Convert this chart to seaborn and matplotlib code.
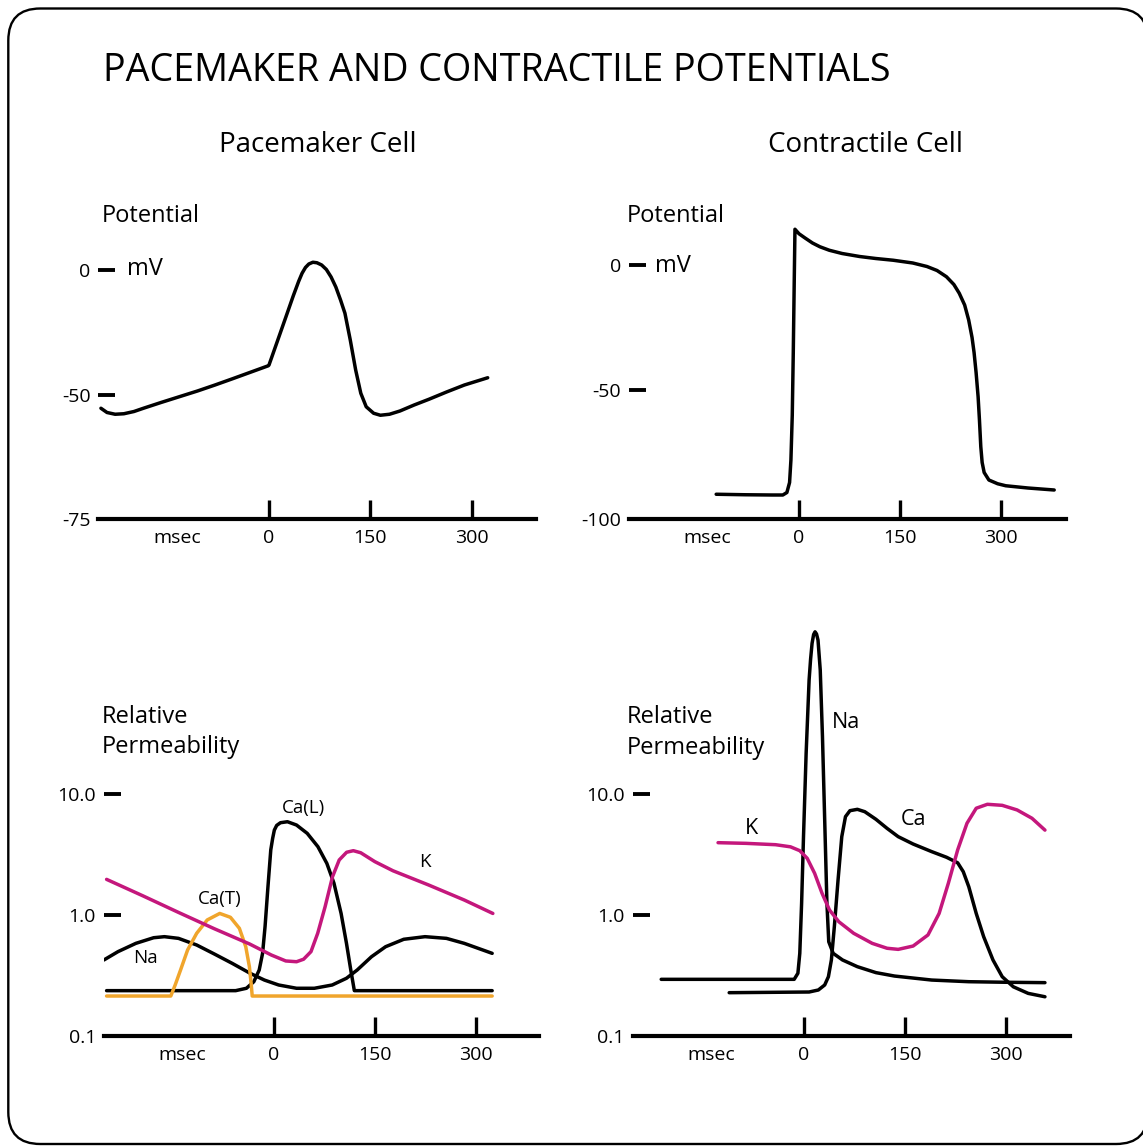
import matplotlib
matplotlib.use("Agg")
import matplotlib.pyplot as plt
import seaborn as sns
from matplotlib.patches import PathPatch
from matplotlib.path import Path
from matplotlib.ticker import FixedLocator, FixedFormatter, NullLocator

# ---------------- data ----------------
X_TICKS = [0, 150, 300]
X_TICK_LABELS = ["0", "150", "300"]
MSEC_POS = -136

# Pacemaker cell membrane potential (ms, mV)
pace_ms = [-249, -240, -228, -215, -200, -186, -160, -133, -106, -80, -54, -27.5, -1,
           0, 12, 25, 36, 44, 49, 54, 59, 65, 71, 78, 85, 92, 99, 106, 112.5, 120.4,
           128.4, 136, 144, 155, 165, 178.5, 194, 215, 237, 263, 289.5, 324]
pace_mv = [-55.3, -57.0, -57.7, -57.5, -56.6, -55.3, -53.0, -50.7, -48.4, -46.0, -43.5, -40.9, -38.3,
           -38.0, -28.8, -18.8, -10.3, -4.5, -1.3, 1.0, 2.4, 3.1, 2.9, 2.0, 0.2, -2.8, -6.8, -12,
           -17.3, -28, -40, -49.3, -54.7, -57.3, -58.1, -57.7, -56.4, -54.0, -51.7, -48.8, -46.0, -43.1]

# Contractile cell membrane potential (ms, mV)
cont_ms = [-123, -80, -40, -24, -18, -14, -12, -10, -8.5, -7, -6, 0, 9, 20, 31, 45, 64, 90,
           114, 140, 169, 190, 205, 219, 230, 238, 246, 252, 257, 260, 263, 266, 268, 270,
           272, 275, 282, 295, 307, 340, 379]
cont_mv = [-91.7, -91.9, -92.0, -92.0, -91.0, -87.0, -78.0, -60.0, -35.0, -5.0, 14.3, 12.5,
           10.8, 8.8, 7.3, 5.9, 4.6, 3.4, 2.6, 1.9, 0.8, -0.6, -2.2, -4.7, -7.8, -11.3, -16,
           -22, -29, -35, -43, -52.7, -62, -72.7, -79, -83, -86, -87.5, -88.3, -89.2, -90]

# Pacemaker cell relative permeability (ms, relative value, log axis)
pk_k_ms = [-249, -195, -142, -89, -36, -4, 17.5, 33.5, 44, 55, 65, 76, 87, 97, 108, 118,
           129, 150, 177, 230, 283, 325.5]
pk_k_p = [1.97, 1.44, 1.05, 0.771, 0.575, 0.467, 0.417, 0.411, 0.431, 0.498, 0.706, 1.17,
          2.07, 2.85, 3.3, 3.4, 3.27, 2.76, 2.32, 1.77, 1.33, 1.03]

pk_cal_ms = [-249, -57, -41, -30, -22, -17, -13.3, -9, -4.8, -2, 0.5, 4, 9.6, 20, 33.5, 49.4,
             65.3, 78.6, 89.2, 99.8, 107.8, 114.2, 119.5, 324.5]
pk_cal_p = [0.237, 0.237, 0.248, 0.281, 0.351, 0.482, 0.802, 1.71, 3.45, 4.3, 5.03, 5.5, 5.79,
            5.9, 5.54, 4.73, 3.67, 2.67, 1.83, 1.03, 0.583, 0.351, 0.237, 0.237]

pk_na_ms = [-253, -232, -205.5, -179, -163, -142, -115, -88.7, -62, -35.6, -14.3, 6.9, 33.5,
            60, 86.6, 107.8, 123.7, 145, 166, 193, 224.6, 256.5, 283, 324.5]
pk_na_p = [0.425, 0.498, 0.583, 0.649, 0.662, 0.641, 0.565, 0.476, 0.398, 0.33, 0.29, 0.264,
           0.248, 0.248, 0.264, 0.3, 0.351, 0.452, 0.547, 0.63, 0.662, 0.641, 0.583, 0.482]

pk_cat_ms = [-249, -153.5, -147, -139, -128.5, -115, -99.3, -80.7, -64.8, -51.5, -42, -36.6,
             -34, -32.4, 324.5]
pk_cat_p = [0.214, 0.214, 0.264, 0.351, 0.514, 0.706, 0.91, 1.03, 0.957, 0.776, 0.547, 0.374,
            0.272, 0.214, 0.214]

# Contractile cell relative permeability (ms, relative value, log axis)
ct_k_ms = [-126.6, -85.3, -41.3, -19.3, -5.5, 5.5, 16.5, 27.5, 38.5, 52.3, 74.3, 101.8, 123.8,
           140.3, 162.4, 184.4, 200.9, 214.6, 228.4, 242.2, 255.9, 272.4, 294.4, 316.5, 338.5, 357.7]
ct_k_p = [3.96, 3.91, 3.81, 3.66, 3.4, 2.94, 2.21, 1.51, 1.1, 0.88, 0.706, 0.583, 0.531, 0.52,
          0.554, 0.684, 1.03, 1.83, 3.45, 5.73, 7.63, 8.22, 8.06, 7.38, 6.3, 5.03]

ct_na_ms = [-210.8, -13.8, -8.3, -5.5, -2.8, 0, 3.9, 8.3, 10.5, 12.7, 15, 17.1, 19.3, 21.5,
            24.8, 28.1, 31.4, 34.7, 37.4, 44, 57.8, 79.8, 107.3, 134.8, 189.9, 244.9, 299.9, 357.7]
ct_na_p = [0.294, 0.294, 0.33, 0.482, 1.25, 4.44, 21.7, 87.5, 130, 176, 208, 219, 210, 187,
           106, 29.8, 6.1, 1.25, 0.601, 0.482, 0.425, 0.374, 0.334, 0.313, 0.29, 0.281, 0.278, 0.276]

ct_ca_ms = [-110.1, 8.3, 22, 31.4, 36.9, 41.3, 45.7, 51.2, 56.7, 62.2, 68.8, 79.8, 90.8, 107.3,
            123.8, 140.3, 162.4, 189.9, 211.9, 228.4, 236.7, 244.9, 255.9, 266.9, 280.7, 294.4,
            310.9, 332.9, 357.7]
ct_ca_p = [0.228, 0.231, 0.24, 0.264, 0.309, 0.425, 0.802, 1.95, 4.44, 6.5, 7.28, 7.47, 7.14,
           6.18, 5.2, 4.44, 3.86, 3.34, 3.0, 2.7, 2.28, 1.71, 1.03, 0.662, 0.425, 0.309, 0.255,
           0.225, 0.211]

BLACK = "#000000"
MAGENTA = "#C4177C"
ORANGE = "#F0A52C"

# ---------------- figure ----------------
sns.set_theme(style="white")
plt.rcParams['font.family'] = ['Open Sans', 'DejaVu Sans']
plt.rcParams['text.color'] = 'black'

W, H = 1143, 1146
fig = plt.figure(figsize=(W / 100, H / 100), dpi=100)
fig.patch.set_facecolor('white')
fig.patch.set_linewidth(0)


def fx(x):
    return x / W


def fy(y):
    return 1 - y / H


def make_axes(x0, x1, ytop, ybot):
    ax = fig.add_axes([fx(x0), fy(ybot), (x1 - x0) / W, (ybot - ytop) / H])
    ax.set_facecolor('none')
    return ax


TICK_FS = 14


def style(ax, yticks, ylabels):
    for s in ['left', 'top', 'right']:
        ax.spines[s].set_visible(False)
    ax.spines['bottom'].set_linewidth(3.0)
    ax.spines['bottom'].set_color('black')
    ax.xaxis.set_major_locator(FixedLocator(X_TICKS))
    ax.xaxis.set_major_formatter(FixedFormatter(X_TICK_LABELS))
    ax.xaxis.set_minor_locator(FixedLocator([MSEC_POS]))
    ax.xaxis.set_minor_formatter(FixedFormatter(["msec"]))
    ax.yaxis.set_major_locator(FixedLocator(yticks))
    ax.yaxis.set_major_formatter(FixedFormatter(ylabels))
    ax.yaxis.set_minor_locator(NullLocator())
    ax.tick_params(axis='x', which='major', direction='in', length=13.7, width=2.4,
                   pad=7, labelsize=TICK_FS, bottom=True, top=False, color='black',
                   labelcolor='black')
    ax.tick_params(axis='x', which='minor', direction='in', length=0, width=0,
                   pad=7, labelsize=TICK_FS, bottom=True, labelcolor='black')
    ax.tick_params(axis='y', which='major', direction='in', length=12, width=2.8,
                   pad=5.5, labelsize=TICK_FS, left=True, right=False, color='black',
                   labelcolor='black')
    ax.set_xlabel('')
    ax.set_ylabel('')
    ax.grid(False)


def line(ax, x, y, color):
    sns.lineplot(x=x, y=y, ax=ax, color=color, linewidth=2.5, sort=False,
                 estimator=None, solid_joinstyle='round', solid_capstyle='round')


# Panel 1: pacemaker potential
ax1 = make_axes(98.3, 536, 200, 519)
ax1.set_xlim((98.3 - 269) / 0.675, (536 - 269) / 0.675)
y1_bot = -(519 - 270) / 2.5
ax1.set_ylim(y1_bot, (270 - 200) / 2.5)
line(ax1, pace_ms, pace_mv, BLACK)
style(ax1, [y1_bot, -50, 0], ["-75", "-50", "0"])

# Panel 2: contractile potential
k2 = (1001 - 799) / 300
ax2 = make_axes(628.8, 1065.6, 200, 519)
ax2.set_xlim((628.8 - 799) / k2, (1065.6 - 799) / k2)
y2_bot = -(519 - 265) / 2.5
ax2.set_ylim(y2_bot, (265 - 200) / 2.5)
line(ax2, cont_ms, cont_mv, BLACK)
style(ax2, [y2_bot, -50, 0], ["-100", "-50", "0"])

# Panels 3 and 4: log permeability
PX_PER_DEC = 121.0
top_val = 10 ** (1 - (600 - 794) / PX_PER_DEC)

k3 = (475.7 - 274) / 300
ax3 = make_axes(103.6, 539.3, 600, 1036)
ax3.set_yscale('log')
ax3.set_xlim((103.6 - 274) / k3, (539.3 - 274) / k3)
ax3.set_ylim(0.1, top_val)
line(ax3, pk_na_ms, pk_na_p, BLACK)
line(ax3, pk_cal_ms, pk_cal_p, BLACK)
line(ax3, pk_cat_ms, pk_cat_p, ORANGE)
line(ax3, pk_k_ms, pk_k_p, MAGENTA)
style(ax3, [0.1, 1.0, 10.0], ["0.1", "1.0", "10.0"])

k4 = (1006 - 803.5) / 300
ax4 = make_axes(632.5, 1070, 600, 1036)
ax4.set_yscale('log')
ax4.set_xlim((632.5 - 803.5) / k4, (1070 - 803.5) / k4)
ax4.set_ylim(0.1, top_val)
line(ax4, ct_na_ms, ct_na_p, BLACK)
line(ax4, ct_ca_ms, ct_ca_p, BLACK)
line(ax4, ct_k_ms, ct_k_p, MAGENTA)
style(ax4, [0.1, 1.0, 10.0], ["0.1", "1.0", "10.0"])


# ---------------- texts ----------------
def ftext(x, y, s, size, ha='left', va='baseline'):
    fig.text(fx(x), fy(y), s, fontsize=size, ha=ha, va=va, color='black')


ftext(103, 81, "PACEMAKER AND CONTRACTILE POTENTIALS", 27.2)
ftext(318, 152, "Pacemaker Cell", 20, ha='center')
ftext(865, 152, "Contractile Cell", 20, ha='center')

ftext(102, 222, "Potential", 17)
ftext(627, 222, "Potential", 17)
ftext(127, 275, "mV", 17)
ftext(655, 272, "mV", 17)

ftext(102, 723, "Relative", 17)
ftext(102, 753, "Permeability", 17)
ftext(627, 723, "Relative", 17)
ftext(627, 754, "Permeability", 17)

ftext(220, 899, "Ca(T)", 13.5, ha='center', va='center')
ftext(303.6, 807.5, "Ca(L)", 13.5, ha='center', va='center')
ftext(425, 862, "K", 13.5, ha='center', va='center')
ftext(145, 958, "Na", 13.5, ha='center', va='center')

ftext(751.4, 828.3, "K", 15.5, ha='center', va='center')
ftext(846.2, 722, "Na", 15.5, ha='center', va='center')
ftext(913.2, 819.3, "Ca", 15.5, ha='center', va='center')

# rounded frame, open on the right (the scan cuts its right side off)
L, R, T, B, RAD = 8.3, 1148.0, 8.5, 1144.0, 32.0
verts_px = [
    (R, T + RAD), (R, T), (R - RAD, T),          # top-right corner
    (L + RAD, T),                                 # top edge
    (L, T), (L, T + RAD),                         # top-left corner
    (L, B - RAD),                                 # left edge
    (L, B), (L + RAD, B),                         # bottom-left corner
    (R - RAD, B),                                 # bottom edge
    (R, B), (R, B - RAD),                         # bottom-right corner
]
codes = [Path.MOVETO, Path.CURVE3, Path.CURVE3, Path.LINETO,
         Path.CURVE3, Path.CURVE3, Path.LINETO,
         Path.CURVE3, Path.CURVE3, Path.LINETO,
         Path.CURVE3, Path.CURVE3]
frame_path = Path([(fx(x), fy(y)) for x, y in verts_px], codes)
frame = PathPatch(frame_path, transform=fig.transFigure, facecolor='none',
                  edgecolor='black', linewidth=1.7, zorder=0)
fig.add_artist(frame)

fig.savefig("out.png", dpi=100, facecolor='white')
